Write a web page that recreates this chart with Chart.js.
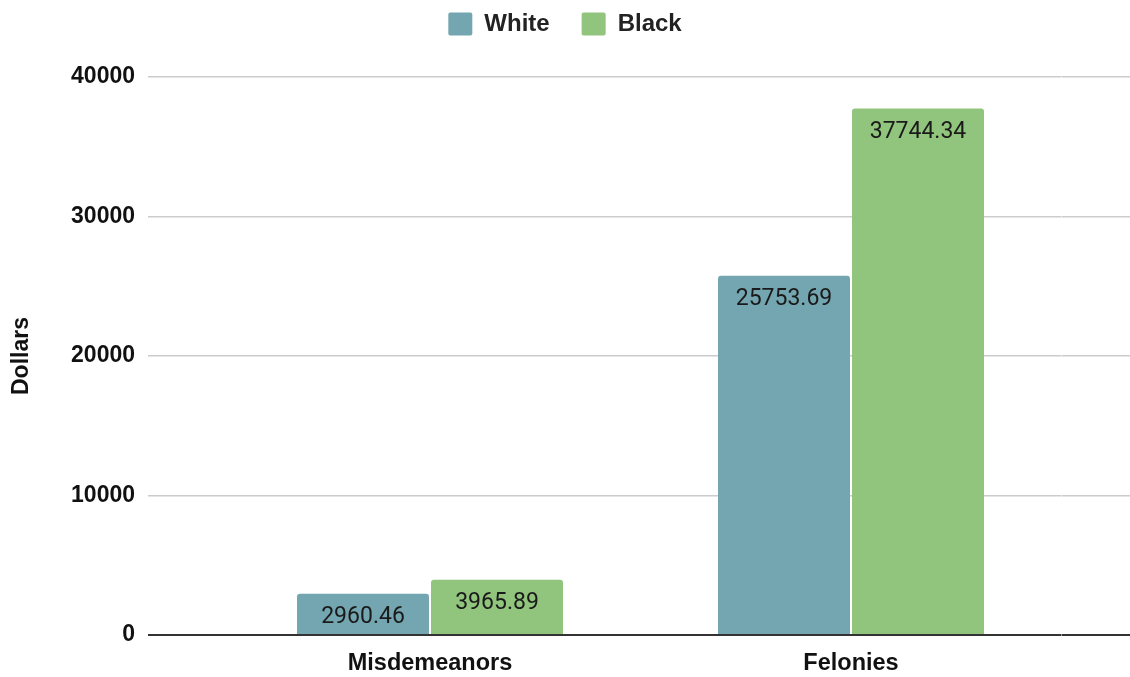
<!DOCTYPE html>
<html>
<head>
<meta charset="utf-8">
<script src="https://cdn.jsdelivr.net/npm/chart.js@4.4.1/dist/chart.umd.min.js"></script>
<style>
  html, body { margin: 0; padding: 0; background: #ffffff; }
  #wrap { width: 1130px; height: 677px; position: relative; }
</style>
</head>
<body>
<div id="wrap"><canvas id="c" width="1130" height="677"></canvas></div>
<script>
const categories = ['Misdemeanors', 'Felonies'];
const whiteValues = [2960.46, 25753.69];
const blackValues = [3965.89, 37744.34];
const seriesNames = ['White', 'Black'];
const yTicks = [0, 10000, 20000, 30000, 40000];
const yTitle = 'Dollars';

const WHITE_COLOR = '#73a6b0';
const BLACK_COLOR = '#91c47c';
const LABEL_FONT = "'Liberation Sans', Arial, sans-serif";

const valueLabels = {
  id: 'valueLabels',
  afterDatasetsDraw(chart) {
    const ctx = chart.ctx;
    ctx.save();
    ctx.font = "23px Roboto, 'Noto Sans', sans-serif";
    ctx.fillStyle = '#1a1a1a';
    ctx.textAlign = 'center';
    ctx.textBaseline = 'middle';
    chart.data.datasets.forEach((ds, di) => {
      const meta = chart.getDatasetMeta(di);
      meta.data.forEach((el, i) => {
        ctx.fillText(ds.data[i].toFixed(2), el.x, el.y + 24);
      });
    });
    ctx.restore();
  }
};

const legendSpacing = {
  id: 'legendSpacing',
  beforeInit(chart) {
    const orig = chart.legend.fit;
    chart.legend.fit = function () {
      orig.call(this);
      this.height += 31;
    };
  }
};

const gridColor = (c) => (c.tick && c.tick.value === 0 ? '#333333' : '#cccccc');
const gridWidth = (c) => (c.tick && c.tick.value === 0 ? 2 : 1.5);

new Chart(document.getElementById('c'), {
  type: 'bar',
  data: {
    labels: categories,
    datasets: [
      { label: seriesNames[0], data: whiteValues, backgroundColor: WHITE_COLOR,
        borderRadius: 3, categoryPercentage: 0.6366, barPercentage: 0.985 },
      { label: seriesNames[1], data: blackValues, backgroundColor: BLACK_COLOR,
        borderRadius: 3, categoryPercentage: 0.6366, barPercentage: 0.985 }
    ]
  },
  options: {
    responsive: false,
    animation: false,
    devicePixelRatio: 1,
    layout: { padding: { top: -20, left: 0, right: 0, bottom: 0 } },
    plugins: {
      legend: {
        position: 'top',
        labels: {
          boxWidth: 24, boxHeight: 23, padding: 32,
          useBorderRadius: true, borderRadius: 2,
          color: '#222222',
          font: { family: LABEL_FONT, size: 24, weight: 'bold' }
        }
      },
      tooltip: { enabled: false }
    },
    scales: {
      x: {
        afterFit(scale) { scale.height = 42; },
        grid: { display: false, drawTicks: false },
        border: { display: false },
        ticks: { color: '#111111', padding: 14, font: { family: LABEL_FONT, size: 23.5, weight: 'bold' } }
      },
      y: {
        position: 'left',
        min: yTicks[0], max: yTicks[yTicks.length - 1],
        afterBuildTicks(scale) { scale.ticks = yTicks.map(v => ({ value: v })); },
        afterFit(scale) { scale.width = 219.5; },
        border: { display: false },
        grid: { color: gridColor, tickColor: gridColor, lineWidth: gridWidth, tickWidth: gridWidth, tickLength: 71.5 },
        ticks: { color: '#111111', padding: 13, callback: (v) => String(v),
                 font: { family: LABEL_FONT, size: 23, weight: 'bold' } },
        title: { display: true, text: yTitle, color: '#111111', padding: { top: 8, bottom: 0 },
                 font: { family: LABEL_FONT, size: 23, weight: 'bold' } }
      },
      y2: {
        position: 'right',
        min: yTicks[0], max: yTicks[yTicks.length - 1],
        afterBuildTicks(scale) { scale.ticks = yTicks.map(v => ({ value: v })); },
        afterFit(scale) { scale.width = 68.5; },
        border: { display: false },
        grid: { drawOnChartArea: false, color: gridColor, tickColor: gridColor, lineWidth: gridWidth, tickWidth: gridWidth, tickLength: 68.5 },
        ticks: { display: false }
      }
    }
  },
  plugins: [valueLabels, legendSpacing]
});
</script>
</body>
</html>
